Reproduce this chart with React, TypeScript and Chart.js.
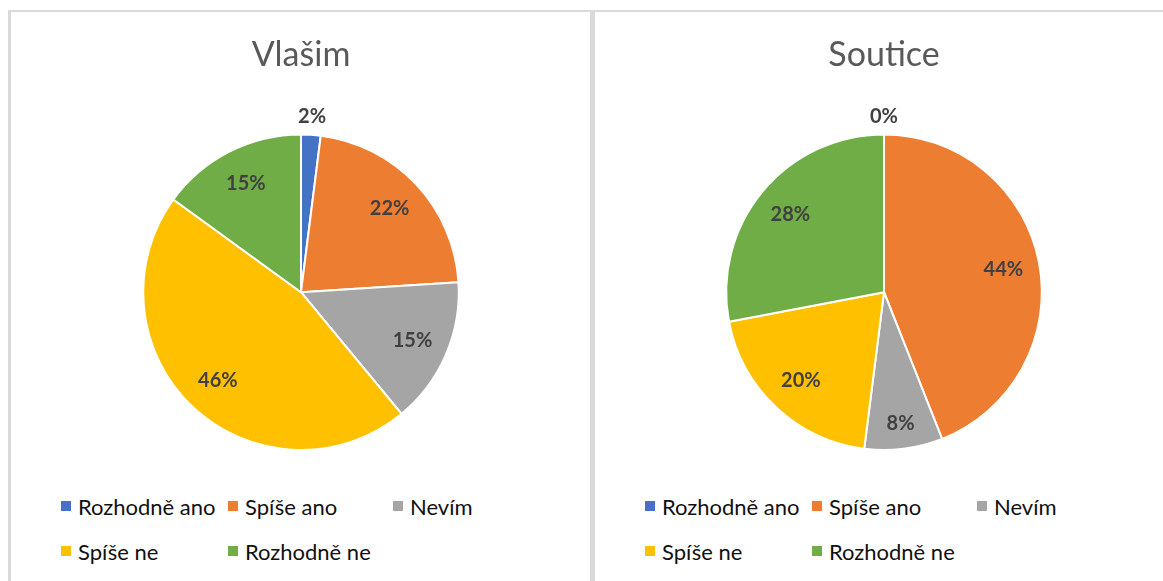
import React, { useEffect, useRef } from "react";
import { Chart, registerables } from "chart.js";
Chart.register(...registerables);

const categories = ["Rozhodně ano", "Spíše ano", "Nevím", "Spíše ne", "Rozhodně ne"];
const vlasimValues = [2, 22, 15, 46, 15];
const souticeValues = [0, 44, 8, 20, 28];
const colors = ["#4472C4", "#ED7D31", "#A5A5A5", "#FFC000", "#70AD47"];
const titles = ["Vlašim", "Soutice"];

const labelPlugin = {
  id: "pieLabels",
  afterDatasetsDraw(chart: any) {
    const ctx = chart.ctx;
    const meta = chart.getDatasetMeta(0);
    const data = chart.data.datasets[0].data as number[];
    ctx.save();
    ctx.font = "bold 20px Lato";
    ctx.fillStyle = "#404040";
    ctx.textAlign = "center";
    ctx.textBaseline = "middle";
    meta.data.forEach((arc: any, i: number) => {
      const { x, y, startAngle, endAngle, outerRadius } = arc.getProps(
        ["x", "y", "startAngle", "endAngle", "outerRadius"],
        true
      );
      const v = data[i];
      const mid = (startAngle + endAngle) / 2;
      const r = v < 5 ? outerRadius + 18 : v < 10 ? outerRadius * 0.84 : outerRadius * 0.77;
      ctx.fillText(v + "%", x + Math.cos(mid) * r, y + Math.sin(mid) * r);
    });
    ctx.restore();
  },
};

function PieChart({ title, values, left }: { title: string; values: number[]; left: number }) {
  const ref = useRef<HTMLCanvasElement>(null);
  useEffect(() => {
    const chart = new Chart(ref.current as HTMLCanvasElement, {
      type: "pie",
      data: {
        labels: categories,
        datasets: [
          {
            data: values,
            backgroundColor: colors,
            borderColor: "#ffffff",
            borderWidth: 2,
            hoverOffset: 0,
          },
        ],
      },
      options: {
        responsive: false,
        animation: false,
        layout: { padding: { top: 0, bottom: 16, left: 0, right: 0 } },
        plugins: {
          legend: { display: false },
          tooltip: { enabled: false },
          title: {
            display: true,
            text: title,
            color: "#595959",
            font: { family: "Lato", size: 34, weight: "normal" },
            padding: { top: 22.6, bottom: 58 },
          },
        },
      },
      plugins: [labelPlugin],
    });
    return () => chart.destroy();
  }, []);
  return (
    <canvas
      ref={ref}
      width={580}
      height={455}
      style={{ position: "absolute", left, top: 12, width: 580, height: 455 }}
    />
  );
}

const legendCols = [0, 167, 332];

function Legend({ left }: { left: number }) {
  const rows = [
    [0, 1, 2],
    [3, 4],
  ];
  const rowY = [506, 551];
  return (
    <>
      {rows.map((row, ri) =>
        row.map((idx, ci) => (
          <div
            key={idx}
            style={{
              position: "absolute",
              left: left + legendCols[ci],
              top: rowY[ri] - 15,
              height: 30,
              display: "flex",
              alignItems: "center",
              whiteSpace: "nowrap",
              fontFamily: "Lato",
              fontSize: 22,
              color: "#111111",
            }}
          >
            <span
              style={{
                display: "inline-block",
                width: 10,
                height: 10,
                background: colors[idx],
                marginRight: 7,
              }}
            />
            <span>{categories[idx]}</span>
          </div>
        ))
      )}
    </>
  );
}

export default function App() {
  return (
    <div
      style={{
        position: "fixed",
        left: 0,
        top: 0,
        width: 1163,
        height: 581,
        overflow: "hidden",
        background: "#ffffff",
      }}
    >
      <div style={{ position: "absolute", left: 8, top: 10, width: 1155, height: 2, background: "#d9d9d9" }} />
      <div style={{ position: "absolute", left: 8, top: 10, width: 3, height: 571, background: "#d9d9d9" }} />
      <div style={{ position: "absolute", left: 590, top: 10, width: 5, height: 571, background: "#d9d9d9" }} />
      <PieChart title={titles[0]} values={vlasimValues} left={11} />
      <PieChart title={titles[1]} values={souticeValues} left={594} />
      <Legend left={61} />
      <Legend left={645} />
    </div>
  );
}
